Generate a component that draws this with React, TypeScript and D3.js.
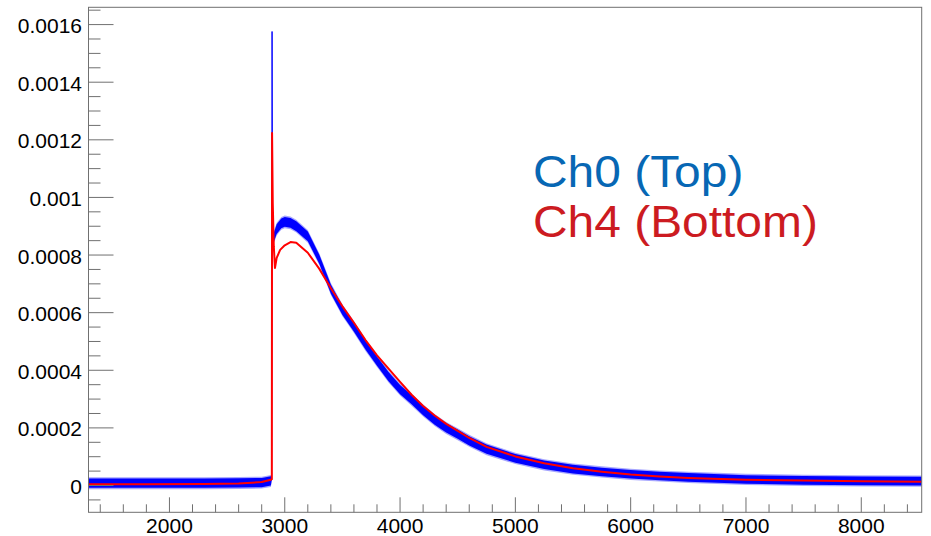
import React from "react";
import * as d3 from "d3";

// ---- data ----
const redX = [1300, 1800, 2300, 2600, 2800, 2880, 2888, 2890, 2896, 2905, 2915, 2930, 2960, 3000, 3050, 3100, 3200, 3300, 3400, 3500, 3600, 3700, 3800, 3900, 4000, 4100, 4200, 4300, 4400, 4500, 4600, 4750, 5000, 5250, 5500, 5750, 6000, 6250, 6500, 7000, 7500, 8000, 8524];
const redY = [0.000004, 0.000004, 0.000005, 0.000007, 0.000012, 0.00002, 0.000022, 0.001224, 0.00098, 0.00083, 0.000755, 0.00079, 0.000818, 0.000834, 0.000845, 0.000843, 0.000808, 0.000752, 0.000685, 0.000622, 0.000565, 0.000505, 0.000452, 0.000406, 0.00036, 0.000315, 0.000276, 0.000243, 0.000214, 0.00019, 0.000165, 0.000134, 0.000101, 0.000077, 0.00006, 0.000048, 0.000038, 0.000031, 0.000026, 0.00002, 0.000017, 0.000015, 0.000013];

const blueX = [1300, 1800, 2300, 2600, 2800, 2880, 2886, 2890, 2894, 2900, 2930, 2970, 3000, 3050, 3100, 3200, 3300, 3400, 3500, 3600, 3700, 3800, 3900, 4000, 4100, 4200, 4300, 4400, 4500, 4600, 4750, 5000, 5250, 5500, 5750, 6000, 6250, 6500, 7000, 7500, 8000, 8524];
const blueMid = [0.000008, 0.000008, 0.000008, 0.000009, 0.00001, 0.000016, 0.00002, 0.001576, 0.00088, 0.000855, 0.00089, 0.00091, 0.000915, 0.000912, 0.0009, 0.000865, 0.000785, 0.000682, 0.000608, 0.00055, 0.000488, 0.000432, 0.000378, 0.000333, 0.000298, 0.00026, 0.000227, 0.0002, 0.000178, 0.000155, 0.000126, 0.000094, 0.000072, 0.000057, 0.000047, 0.000039, 0.000033, 0.000028, 0.000021, 0.000018, 0.000016, 0.000015];
const blueHalf = [0.000016, 0.000016, 0.000016, 0.000016, 0.000016, 0.000016, 0.000004, 0.000002, 0.000008, 0.000016, 0.000017, 0.000017, 0.000017, 0.000017, 0.000017, 0.000017, 0.000016, 0.000016, 0.000016, 0.000016, 0.000016, 0.000016, 0.000016, 0.000016, 0.000016, 0.000016, 0.000016, 0.000016, 0.000016, 0.000016, 0.000016, 0.000015, 0.000015, 0.000015, 0.000015, 0.000015, 0.000015, 0.000015, 0.000015, 0.000015, 0.000015, 0.000015];

const xMajorTicks = [2000, 3000, 4000, 5000, 6000, 7000, 8000];
const xTickLabels = ["2000", "3000", "4000", "5000", "6000", "7000", "8000"];
const yMajorTicks = [0, 0.0002, 0.0004, 0.0006, 0.0008, 0.001, 0.0012, 0.0014, 0.0016];
const yTickLabels = ["0", "0.0002", "0.0004", "0.0006", "0.0008", "0.001", "0.0012", "0.0014", "0.0016"];
const legendLabels = ["Ch0 (Top)", "Ch4 (Bottom)"];

const W = 931;
const H = 536;
const frame = { left: 88.5, right: 921.7, top: 7.3, bottom: 512.3 };
const FONT = "'Liberation Sans', Arial, Helvetica, sans-serif";
const AXIS = "#707070";

export default function App() {
  const x = d3.scaleLinear().domain([1298, 8524]).range([frame.left, frame.right]);
  const y = d3.scaleLinear().domain([-0.000093, 0.00166]).range([frame.bottom, frame.top]);

  const xMinor = d3.range(1400, 8524, 200).filter((v) => v % 1000 !== 0);
  const yMinor = d3.range(-1, 34).map((i) => i * 0.00005).filter((v) => v >= -0.000093 && v <= 0.00166 && Math.abs(v / 0.0002 - Math.round(v / 0.0002)) > 1e-6);

  const redData = redX.map((v, i) => [v, redY[i]] as [number, number]);
  const blueData = blueX.map((v, i) => ({ x: v, m: blueMid[i], h: blueHalf[i] }));

  const line = d3.line<[number, number]>().x((d) => x(d[0])).y((d) => y(d[1]));
  const blueLine = d3.line<any>().x((d) => x(d.x)).y((d) => y(d.m));
  const bandOuter = d3.area<any>().x((d) => x(d.x)).y0((d) => y(d.m - d.h * 1.3)).y1((d) => y(d.m + d.h * 1.3));
  const bandInner = d3.area<any>().x((d) => x(d.x)).y0((d) => y(d.m - d.h)).y1((d) => y(d.m + d.h));

  const majorLenY = 25;
  const minorLenY = 12;
  const majorLenX = 15;
  const minorLenX = 8;

  return (
    <svg width={W} height={H} style={{ position: "absolute", left: 0, top: 0, background: "#fff" }}>
      <rect x={0} y={0} width={W} height={H} fill="#fff" />
      <defs>
        <clipPath id="plotclip">
          <rect x={frame.left} y={frame.top} width={frame.right - frame.left} height={frame.bottom - frame.top} />
        </clipPath>
      </defs>
      <g clipPath="url(#plotclip)">
        <path d={bandOuter(blueData) || ""} fill="#0000ff" opacity={0.35} />
        <path d={bandInner(blueData) || ""} fill="#0000ff" />
        <path d={blueLine(blueData) || ""} fill="none" stroke="#0000ff" strokeWidth={1} />
        <path d={line(redData) || ""} fill="none" stroke="#ff0000" strokeWidth={2} strokeLinejoin="round" />
      </g>
      {/* frame */}
      <rect x={frame.left} y={frame.top} width={frame.right - frame.left} height={frame.bottom - frame.top} fill="none" stroke={AXIS} strokeWidth={1} />
      {/* y ticks */}
      {yMajorTicks.map((v, i) => (
        <g key={"ym" + i}>
          <line x1={frame.left} x2={frame.left + majorLenY} y1={y(v)} y2={y(v)} stroke={AXIS} strokeWidth={1} />
          <text transform={`translate(82, ${y(v) + 8.6}) scale(1.05, 1)`} textAnchor="end" fontFamily={FONT} fontSize={20} fill="#000">
            {yTickLabels[i]}
          </text>
        </g>
      ))}
      {yMinor.map((v, i) => (
        <line key={"yn" + i} x1={frame.left} x2={frame.left + minorLenY} y1={y(v)} y2={y(v)} stroke={AXIS} strokeWidth={1} />
      ))}
      {/* x ticks */}
      {xMajorTicks.map((v, i) => (
        <g key={"xm" + i}>
          <line x1={x(v)} x2={x(v)} y1={frame.bottom} y2={frame.bottom - majorLenX} stroke={AXIS} strokeWidth={1} />
          <text transform={`translate(${x(v)}, 533.3) scale(1.05, 1)`} textAnchor="middle" fontFamily={FONT} fontSize={20} fill="#000">
            {xTickLabels[i]}
          </text>
        </g>
      ))}
      {xMinor.map((v, i) => (
        <line key={"xn" + i} x1={x(v)} x2={x(v)} y1={frame.bottom} y2={frame.bottom - minorLenX} stroke={AXIS} strokeWidth={1} />
      ))}
      {/* legend texts */}
      <text transform="translate(533, 186.7) scale(1.065, 1)" fontFamily={FONT} fontSize={45} fill="#0767b4">
        {legendLabels[0]}
      </text>
      <text transform="translate(533, 237.3) scale(1.065, 1)" fontFamily={FONT} fontSize={45} fill="#cc1b21">
        {legendLabels[1]}
      </text>
    </svg>
  );
}
